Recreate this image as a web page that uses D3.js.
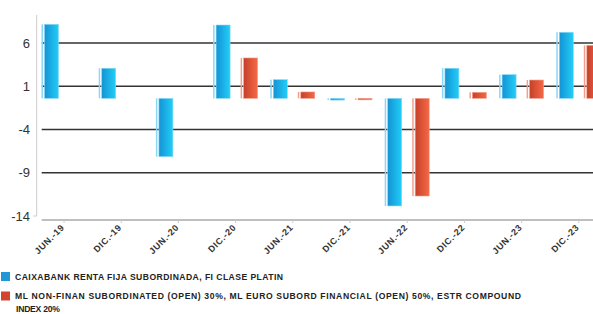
<!DOCTYPE html>
<html>
<head>
<meta charset="utf-8">
<script src="https://cdn.jsdelivr.net/npm/d3@7"></script>
<style>
  body { margin: 0; background: #fff; }
  svg { display: block; font-family: "Liberation Sans", Arial, sans-serif; }
</style>
</head>
<body>
<div id="chart"></div>
<script>
// periods on the x axis
const periods = ["JUN.-19", "DIC.-19", "JUN.-20", "DIC.-20", "JUN.-21", "DIC.-21", "JUN.-22", "DIC.-22", "JUN.-23", "DIC.-23"];
// fund returns (blue)
const fundValues = [8.16, 3.08, -7.14, 8.08, 1.76, -0.6, -12.84, 3.08, 2.34, 7.24];
// benchmark returns (red), no data for first three periods
const benchValues = [null, null, null, 4.27, 0.34, -0.55, -11.69, 0.3, 1.72, 5.73];
const yTicks = [6, 1, -4, -9, -14];
const baseline = -0.4;
const seriesNames = [
  "CAIXABANK RENTA FIJA SUBORDINADA, FI CLASE PLATIN",
  "ML NON-FINAN SUBORDINATED (OPEN) 30%, ML EURO SUBORD FINANCIAL (OPEN) 50%, ESTR COMPOUND|INDEX 20%"
];

const width = 593, height = 314;
const svg = d3.select("#chart").append("svg")
    .attr("width", width)
    .attr("height", height);

const defs = svg.append("defs");
const addGrad = (id, c1, c2) => {
  const g = defs.append("linearGradient").attr("id", id)
      .attr("x1", "0%").attr("x2", "100%").attr("y1", "0%").attr("y2", "0%");
  g.append("stop").attr("offset", "0%").attr("stop-color", c1);
  g.append("stop").attr("offset", "100%").attr("stop-color", c2);
};
addGrad("gBlue", "#1493d4", "#22cdf7");
addGrad("gRed", "#c5402a", "#f56846");

const plotLeft = 35.4, plotTop = 15, plotBottom = 216;

const x = d3.scaleBand().domain(periods).range([plotLeft, plotLeft + 57.2 * periods.length]);
const y = d3.scaleLinear().domain([6, -14]).range([43, plotBottom]);

// y axis line
svg.append("line")
    .attr("x1", 36.7).attr("x2", 36.7)
    .attr("y1", plotTop).attr("y2", plotBottom)
    .attr("stroke", "#ccc").attr("stroke-width", 1);
svg.append("line")
    .attr("x1", 33).attr("x2", 36.7)
    .attr("y1", plotBottom).attr("y2", plotBottom)
    .attr("stroke", "#ccc");

// gridlines
svg.append("g").selectAll("line")
  .data(yTicks.slice(0, 4))
  .enter().append("line")
    .attr("x1", 41.7).attr("x2", width)
    .attr("y1", d => y(d)).attr("y2", d => y(d))
    .attr("stroke", "#333").attr("stroke-width", 1.3);

// y labels
svg.append("g").selectAll("text")
  .data(yTicks)
  .enter().append("text")
    .attr("x", 30)
    .attr("y", d => y(d))
    .attr("dy", "0.36em")
    .attr("text-anchor", "end")
    .attr("font-size", "13px")
    .attr("fill", "#333")
    .text(d => d);

// x axis
const xAxis = svg.append("g").attr("transform", "translate(0,220)");
xAxis.append("line")
    .attr("x1", 41.7).attr("x2", width)
    .attr("stroke", "#aaa").attr("stroke-width", 1.3);
xAxis.selectAll(".tk")
  .data(periods)
  .enter().append("line")
    .attr("x1", d => x(d) + x.bandwidth() / 2)
    .attr("x2", d => x(d) + x.bandwidth() / 2)
    .attr("y1", 0).attr("y2", 3)
    .attr("stroke", "#ccc");
xAxis.selectAll("text")
  .data(periods)
  .enter().append("text")
    .attr("transform", d => `translate(${x(d) + x.bandwidth() / 2 + 1},${8}) rotate(-45)`)
    .attr("text-anchor", "end")
    .attr("font-size", "9px")
    .attr("letter-spacing", "0.6px")
    .attr("font-weight", "bold")
    .attr("fill", "#333")
    .text(d => d);

// bars
const drawBars = (values, offset, grad, light) => {
  const data = periods.map((p, i) => ({p, v: values[i]})).filter(d => d.v !== null);
  const g = svg.append("g");
  const top = d => Math.min(y(d.v), y(baseline));
  const h = d => Math.max(1.5, Math.abs(y(d.v) - y(baseline)));
  g.selectAll(".edge")
    .data(data)
    .enter().append("rect")
      .attr("x", d => x(d.p) + x.bandwidth() / 2 + offset)
      .attr("y", top)
      .attr("width", 1.5)
      .attr("height", h)
      .attr("fill", light);
  g.selectAll(".body")
    .data(data)
    .enter().append("rect")
      .attr("x", d => x(d.p) + x.bandwidth() / 2 + offset + 3)
      .attr("y", top)
      .attr("width", 14)
      .attr("height", h)
      .attr("fill", `url(#${grad})`)
      .attr("stroke", light)
      .attr("stroke-width", 0.6);
};
drawBars(fundValues, -22.5, "gBlue", "#8ad8f6");
drawBars(benchValues, 5, "gRed", "#f2a08c");

// legend
const legendColors = ["#1f98d8", "#d2442e"];
const legendY = [276.5, 296];
const lineWidths = [[268], [506, 44]];
seriesNames.forEach((name, i) => {
  svg.append("rect")
      .attr("x", 1).attr("y", legendY[i] - 4.5)
      .attr("width", 9).attr("height", 9)
      .attr("fill", legendColors[i]);
  name.split("|").forEach((line, j) => {
    svg.append("text")
        .attr("x", j === 0 ? 15 : 16)
        .attr("y", legendY[i] + j * 12.6)
        .attr("dy", "0.35em")
        .attr("font-size", "8.6px")
        .attr("font-weight", "bold")
        .attr("fill", "#222")
        .attr("textLength", lineWidths[i][j])
        .attr("lengthAdjust", "spacing")
        .text(line);
  });
});
</script>
</body>
</html>
